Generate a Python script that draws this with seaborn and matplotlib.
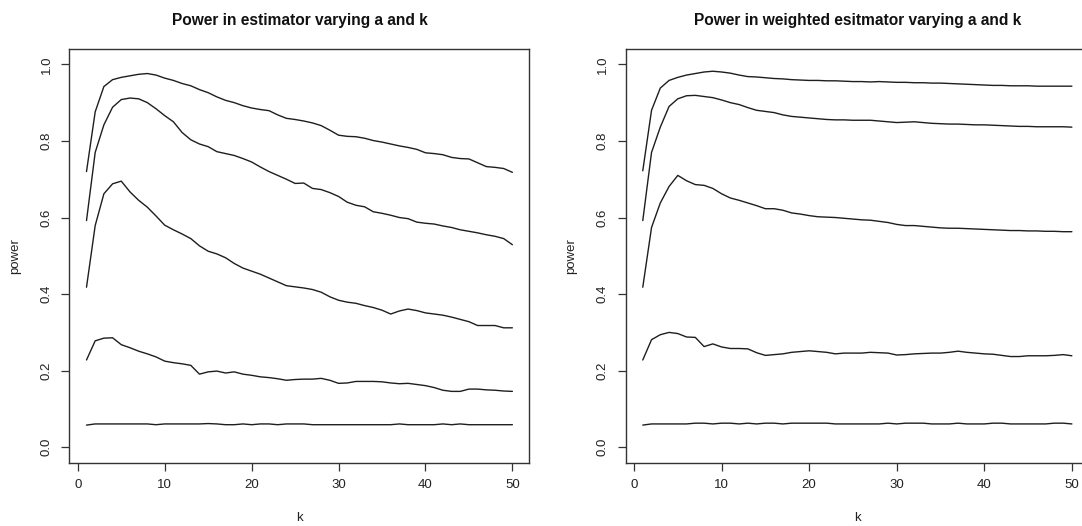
import matplotlib
matplotlib.use("Agg")
import matplotlib.pyplot as plt
import seaborn as sns
import pandas as pd

k = list(range(1, 51))

# Left panel: plain estimator, five values of a
left_a1 = [0.720, 0.876, 0.942, 0.960, 0.966, 0.970, 0.974, 0.976, 0.972, 0.964,
           0.958, 0.950, 0.944, 0.934, 0.926, 0.915, 0.906, 0.900, 0.892, 0.886,
           0.882, 0.879, 0.868, 0.859, 0.856, 0.852, 0.847, 0.840, 0.828, 0.815,
           0.812, 0.811, 0.807, 0.801, 0.797, 0.792, 0.787, 0.783, 0.778, 0.769,
           0.767, 0.764, 0.757, 0.754, 0.753, 0.743, 0.733, 0.731, 0.728, 0.718]
left_a2 = [0.592, 0.770, 0.842, 0.888, 0.908, 0.912, 0.910, 0.900, 0.884, 0.866,
           0.850, 0.822, 0.803, 0.792, 0.785, 0.772, 0.767, 0.762, 0.754, 0.745,
           0.732, 0.720, 0.710, 0.700, 0.689, 0.690, 0.676, 0.673, 0.665, 0.655,
           0.640, 0.632, 0.628, 0.615, 0.611, 0.606, 0.600, 0.597, 0.588, 0.585,
           0.583, 0.578, 0.574, 0.568, 0.564, 0.560, 0.555, 0.551, 0.545, 0.529]
left_a3 = [0.418, 0.579, 0.662, 0.688, 0.695, 0.667, 0.645, 0.627, 0.604, 0.580,
           0.568, 0.557, 0.545, 0.526, 0.512, 0.505, 0.495, 0.480, 0.468, 0.460,
           0.452, 0.442, 0.432, 0.422, 0.419, 0.416, 0.412, 0.405, 0.393, 0.384,
           0.379, 0.376, 0.370, 0.365, 0.358, 0.348, 0.356, 0.361, 0.357, 0.351,
           0.348, 0.345, 0.340, 0.334, 0.328, 0.318, 0.318, 0.318, 0.312, 0.312]
left_a4 = [0.228, 0.278, 0.285, 0.286, 0.268, 0.260, 0.251, 0.244, 0.236, 0.225,
           0.221, 0.218, 0.214, 0.191, 0.197, 0.199, 0.194, 0.197, 0.191, 0.188,
           0.184, 0.182, 0.179, 0.175, 0.177, 0.178, 0.178, 0.180, 0.175, 0.167,
           0.168, 0.172, 0.172, 0.172, 0.171, 0.168, 0.166, 0.167, 0.164, 0.161,
           0.156, 0.149, 0.146, 0.146, 0.152, 0.152, 0.150, 0.149, 0.147, 0.146]
left_a5 = [0.058, 0.061, 0.061, 0.061, 0.061, 0.061, 0.061, 0.061, 0.059, 0.061,
           0.061, 0.061, 0.061, 0.061, 0.062, 0.061, 0.059, 0.059, 0.061, 0.059,
           0.061, 0.061, 0.059, 0.061, 0.061, 0.061, 0.059, 0.059, 0.059, 0.059,
           0.059, 0.059, 0.059, 0.059, 0.059, 0.059, 0.061, 0.059, 0.059, 0.059,
           0.059, 0.061, 0.059, 0.061, 0.059, 0.059, 0.059, 0.059, 0.059, 0.059]

# Right panel: weighted estimator, five values of a
right_a1 = [0.722, 0.880, 0.938, 0.958, 0.966, 0.972, 0.976, 0.980, 0.982, 0.980,
            0.977, 0.972, 0.968, 0.967, 0.965, 0.963, 0.962, 0.960, 0.959, 0.958,
            0.958, 0.957, 0.957, 0.956, 0.955, 0.955, 0.954, 0.955, 0.954, 0.953,
            0.953, 0.952, 0.952, 0.951, 0.951, 0.950, 0.949, 0.948, 0.947, 0.946,
            0.945, 0.945, 0.944, 0.944, 0.944, 0.943, 0.943, 0.943, 0.943, 0.943]
right_a2 = [0.592, 0.770, 0.836, 0.890, 0.910, 0.918, 0.919, 0.916, 0.913, 0.907,
            0.900, 0.895, 0.887, 0.880, 0.877, 0.874, 0.868, 0.864, 0.862, 0.860,
            0.858, 0.856, 0.855, 0.855, 0.854, 0.854, 0.854, 0.852, 0.850, 0.848,
            0.849, 0.850, 0.848, 0.846, 0.845, 0.844, 0.844, 0.843, 0.842, 0.842,
            0.841, 0.840, 0.839, 0.838, 0.838, 0.837, 0.837, 0.837, 0.837, 0.836]
right_a3 = [0.418, 0.574, 0.638, 0.681, 0.710, 0.696, 0.686, 0.684, 0.676, 0.662,
            0.651, 0.645, 0.638, 0.631, 0.623, 0.623, 0.619, 0.612, 0.609, 0.605,
            0.602, 0.601, 0.600, 0.598, 0.596, 0.594, 0.593, 0.590, 0.587, 0.582,
            0.579, 0.579, 0.577, 0.575, 0.573, 0.572, 0.572, 0.571, 0.570, 0.569,
            0.568, 0.567, 0.566, 0.566, 0.565, 0.565, 0.564, 0.564, 0.563, 0.563]
right_a4 = [0.228, 0.281, 0.294, 0.300, 0.297, 0.288, 0.287, 0.263, 0.270, 0.262,
            0.258, 0.258, 0.257, 0.247, 0.240, 0.242, 0.244, 0.248, 0.250, 0.252,
            0.250, 0.248, 0.244, 0.246, 0.246, 0.246, 0.248, 0.247, 0.246, 0.241,
            0.242, 0.244, 0.245, 0.246, 0.246, 0.248, 0.251, 0.248, 0.246, 0.244,
            0.243, 0.240, 0.237, 0.237, 0.239, 0.239, 0.239, 0.240, 0.242, 0.239]
right_a5 = [0.058, 0.061, 0.061, 0.061, 0.061, 0.061, 0.063, 0.063, 0.061, 0.063,
            0.063, 0.061, 0.063, 0.061, 0.063, 0.063, 0.061, 0.063, 0.063, 0.063,
            0.063, 0.063, 0.061, 0.061, 0.061, 0.061, 0.061, 0.061, 0.063, 0.061,
            0.063, 0.063, 0.063, 0.061, 0.061, 0.061, 0.063, 0.061, 0.061, 0.061,
            0.063, 0.063, 0.061, 0.061, 0.061, 0.061, 0.061, 0.063, 0.063, 0.061]

x_ticks = [0, 10, 20, 30, 40, 50]
y_ticks = [0.0, 0.2, 0.4, 0.6, 0.8, 1.0]
y_tick_labels = ["0.0", "0.2", "0.4", "0.6", "0.8", "1.0"]

titles = ["Power in estimator varying a and k",
          "Power in weighted esitmator varying a and k"]

sns.set_style("white")
plt.rcParams["font.family"] = ["Liberation Sans", "DejaVu Sans"]

fig = plt.figure(figsize=(10.82, 5.26), dpi=100)
ax_left = fig.add_axes([0.0642, 0.1205, 0.4251, 0.7863])
ax_right = fig.add_axes([0.5782, 0.1205, 0.4283, 0.7863])

panels = [
    (ax_left, [left_a1, left_a2, left_a3, left_a4, left_a5], titles[0], -0.118),
    (ax_right, [right_a1, right_a2, right_a3, right_a4, right_a5], titles[1], -0.118),
]

line_color = "#1e1e1e"
for ax, series, title, ylab_x in panels:
    for vals in series:
        df = pd.DataFrame({"k": k, "power": vals})
        sns.lineplot(data=df, x="k", y="power", ax=ax, color=line_color,
                     linewidth=1.0, legend=False)
    ax.set_xlim(-0.96, 51.96)
    ax.set_ylim(-0.04, 1.04)
    ax.set_xticks(x_ticks)
    ax.set_xticklabels([str(t) for t in x_ticks])
    ax.set_yticks(y_ticks)
    ax.set_yticklabels(y_tick_labels)
    ax.tick_params(axis="both", direction="out", length=6, width=0.9,
                   color="#333333", labelsize=9.5, pad=6, labelcolor="#222222",
                   bottom=True, left=True, top=False, right=False)
    ax.tick_params(axis="y", labelrotation=90)
    for lbl in ax.get_yticklabels():
        lbl.set_va("center")
    for sp in ax.spines.values():
        sp.set_visible(True)
        sp.set_color("#333333")
        sp.set_linewidth(1.0)
    ax.set_title(title, fontsize=11.2, fontweight="bold", pad=17, color="#111111")
    ax.set_xlabel("k", fontsize=9.5, color="#222222")
    ax.set_ylabel("power", fontsize=9.5, color="#222222")
    ax.xaxis.set_label_coords(0.5, -0.133)
    ax.xaxis.label.set_va("center")
    ax.yaxis.set_label_coords(ylab_x, 0.5)
    ax.yaxis.label.set_va("center")
    ax.grid(False)

fig.savefig("out.png", dpi=100, facecolor="white")
